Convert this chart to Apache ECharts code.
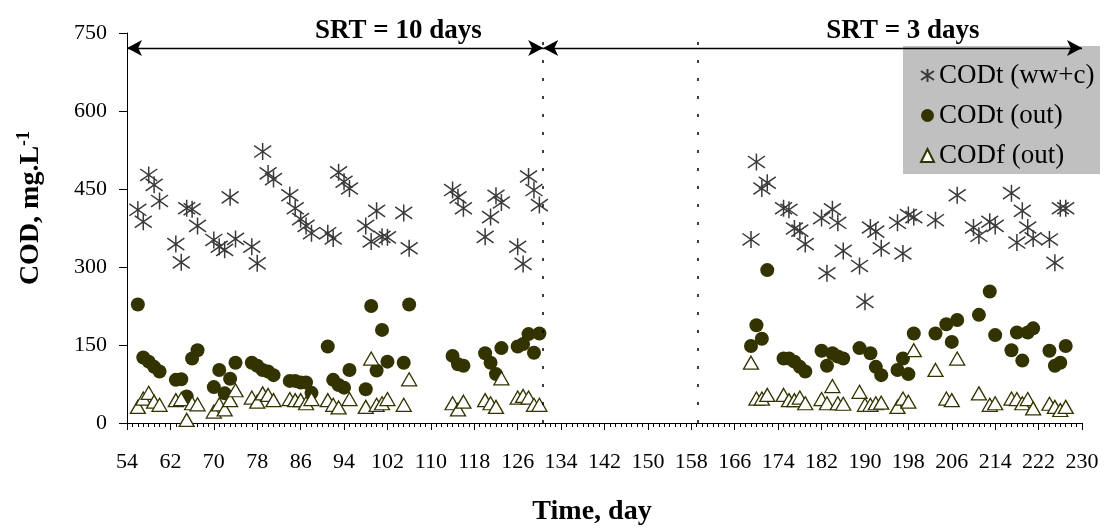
<!DOCTYPE html>
<html><head><meta charset="utf-8">
<script src="https://cdn.jsdelivr.net/npm/echarts@6/dist/echarts.min.js"></script>
<style>html,body{margin:0;padding:0;background:#fff}#c{width:1106px;height:528px}</style>
</head><body><div id="c"></div>
<script>
// ---- axis settings ----
const dayStart = 54;
const dayEnd = 230;
const xTickStep = 8;
const yMin = 0, yMax = 750, yStep = 150;

// ---- titles / series names ----
const xTitle = 'Time, day';
const yTitleMain = 'COD, mg.L';
const yTitleSup = '-1';
const seriesNames = ['CODt (ww+c)', 'CODt (out)', 'CODf (out)'];

// ---- CODt (ww+c) ----
const codtInDays = [56,57,58,59,60,63,64,65,66,67,70,71,72,73,74,77,78,79,80,81,84,85,86,87,88,91,92,93,94,95,98,99,100,101,102,105,106,114,115,116,120,121,122,123,126,127,128,129,130,
  169,170,171,172,175,176,177,178,179,182,183,184,185,186,189,190,191,192,193,196,197,198,199,203,207,210,211,213,214,217,218,219,220,221,224,225,226,227];
const codtInVals = [410,387,477,458,427,344,309,413,411,379,352,339,333,434,354,339,307,522,480,469,438,413,392,379,365,365,355,482,464,451,379,349,408,358,357,404,336,448,434,413,358,396,437,424,339,306,474,448,419,
  353,502,451,462,413,410,374,370,344,394,288,411,385,331,302,233,376,368,336,385,326,400,396,390,438,376,360,387,379,442,347,408,376,355,353,308,413,413];

// ---- CODt (out) ----
const codtOutDays = [56,57,58,59,60,63,64,65,66,67,70,71,72,73,74,77,78,79,80,81,84,85,86,87,88,91,92,93,94,95,98,99,100,101,102,105,106,114,115,116,120,121,122,123,126,127,128,129,130,
  169,170,171,172,175,176,177,178,179,182,183,184,185,186,189,191,192,193,196,197,198,199,203,205,206,207,211,213,214,217,218,219,220,221,224,225,226,227];
const codtOutVals = [228,126,118,108,99,83,84,51,124,140,69,102,57,85,116,116,110,102,99,92,81,81,78,78,58,147,83,73,68,102,65,225,101,179,118,116,228,129,113,110,134,116,94,144,147,152,171,135,172,
  148,188,162,294,124,124,118,108,99,139,110,134,128,124,144,134,108,92,102,124,94,172,172,190,156,198,208,253,169,140,174,120,174,182,139,110,116,148];

// ---- CODf (out) ----
const codfOutDays = [56,57,58,59,60,63,64,65,66,67,70,71,72,73,74,77,78,79,80,81,84,85,86,87,88,91,92,93,95,98,99,100,101,102,105,106,114,115,116,120,121,122,123,126,127,128,129,130,
  169,170,171,172,175,176,177,178,179,182,183,184,185,186,189,190,191,192,193,196,197,198,199,203,205,206,207,211,213,214,217,218,219,220,221,224,225,226,227];
const codfOutVals = [31,47,58,41,35,44,46,6,38,36,22,36,26,44,63,49,41,57,54,44,46,44,44,38,46,44,35,30,46,31,124,35,38,46,35,84,38,26,41,44,38,31,86,49,52,49,35,35,
  116,47,47,54,54,44,44,49,38,46,38,71,38,37,60,35,35,38,39,31,47,41,140,102,47,44,124,57,35,38,47,46,38,46,28,37,31,25,31];

// ---- annotations ----
const srtLabels = ['SRT = 10 days', 'SRT = 3 days'];
const srtArrowDays = [[54, 130.7], [130.7, 230]];
const srtArrowLevel = 721;
const srtLabelDays = [104, 197];
const srtLabelLevel = 754;
const dividerDays = [130.7, 159.2];

const FONT = '"Liberation Serif","Times New Roman",serif';
const pair = (days, vals) => days.map((d, i) => [d - dayStart, vals[i]]);
const starPath = 'path://M10,0L10,20M0,3L20,17M0,17L20,3';

const chart = echarts.init(document.getElementById('c'), null, {renderer: 'canvas'});
chart.setOption({
  animation: false,
  backgroundColor: '#fff',
  textStyle: {fontFamily: FONT, color: '#000'},
  grid: {left: 127, right: 24, top: 33, bottom: 105, containLabel: false},
  legend: {
    data: seriesNames,
    orient: 'vertical',
    left: 915, top: 56,
    itemWidth: 13, itemHeight: 13,
    itemGap: 11,
    z: 10,
    textStyle: {fontFamily: FONT, fontSize: 27, color: '#000', lineHeight: 29}
  },
  xAxis: {
    type: 'value', min: 0, max: dayEnd - dayStart, interval: xTickStep,
    axisLine: {show: true, onZero: false, lineStyle: {color: '#000', width: 1}},
    axisTick: {show: true, length: 7, lineStyle: {color: '#000'}},
    minorTick: {show: true, splitNumber: 8, length: 4, lineStyle: {color: '#000'}},
    axisLabel: {fontFamily: FONT, fontSize: 22, color: '#000', margin: 28,
      formatter: v => String(v + dayStart)},
    splitLine: {show: false}
  },
  yAxis: {
    type: 'value', min: yMin, max: yMax, interval: yStep,
    axisLine: {show: true, lineStyle: {color: '#000', width: 1}},
    axisTick: {show: true, length: 8, lineStyle: {color: '#000'}},
    axisLabel: {fontFamily: FONT, fontSize: 22, color: '#000', margin: 20},
    splitLine: {show: false}
  },
  series: [
    {
      name: seriesNames[0], type: 'scatter', symbol: starPath, symbolSize: 17,
      itemStyle: {color: 'rgba(0,0,0,0)', borderColor: '#3a3a3a', borderWidth: 1.5, opacity: 1},
      data: pair(codtInDays, codtInVals),
      markLine: {
        silent: true, animation: false,
        symbol: ['arrow', 'arrow'], symbolSize: [12, 15],
        label: {show: false},
        lineStyle: {color: '#000', width: 1.3, type: 'solid'},
        data: srtArrowDays.map(([a, b]) => [{coord: [a - dayStart, srtArrowLevel]}, {coord: [b - dayStart, srtArrowLevel]}])
      }
    },
    {
      name: seriesNames[1], type: 'scatter', symbol: 'circle', symbolSize: 14,
      itemStyle: {color: '#333300', opacity: 1},
      data: pair(codtOutDays, codtOutVals),
      markLine: {
        silent: true, animation: false, symbol: ['none', 'none'],
        label: {show: false},
        lineStyle: {color: '#000', width: 1.5, type: [3, 15]},
        data: dividerDays.map(d => ({xAxis: d - dayStart}))
      }
    },
    {
      name: seriesNames[2], type: 'scatter', symbol: 'triangle', symbolSize: [15, 13],
      itemStyle: {color: '#ffffff', borderColor: '#333300', borderWidth: 1.3, opacity: 1},
      data: pair(codfOutDays, codfOutVals)
    }
  ]
});

// annotation texts placed through the chart's own scales
const srtGraphics = srtLabels.map((t, i) => {
  const p = chart.convertToPixel({gridIndex: 0}, [srtLabelDays[i] - dayStart, srtLabelLevel]);
  return {
    type: 'text', id: 'srt' + i, x: p[0], y: p[1], z: 20,
    style: {text: t, fill: '#000', font: 'bold 27px ' + FONT, align: 'center', verticalAlign: 'middle',
      textAlign: 'center', textVerticalAlign: 'middle'}
  };
});
chart.setOption({
  graphic: [
    {type: 'rect', id: 'legendBox', left: 903, top: 46, z: 3,
      shape: {width: 197, height: 128}, style: {fill: '#c0c0c0'}},
    ...srtGraphics,
    {type: 'text', id: 'xTitle', x: 592, y: 512, z: 20,
      style: {text: xTitle, fill: '#000', font: 'bold 28px ' + FONT, align: 'center', verticalAlign: 'middle',
        textAlign: 'center', textVerticalAlign: 'middle'}},
    {type: 'text', id: 'yTitle', x: 31, y: 208, rotation: Math.PI / 2, z: 20,
      style: {text: '{a|' + yTitleMain + '}{b|' + yTitleSup + '}', align: 'center', verticalAlign: 'middle',
        textAlign: 'center', textVerticalAlign: 'middle',
        rich: {
          a: {fontFamily: FONT, fontSize: 28, fontWeight: 'bold', fill: '#000', lineHeight: 32},
          b: {fontFamily: FONT, fontSize: 18, fontWeight: 'bold', fill: '#000', lineHeight: 18, verticalAlign: 'top'}
        }}}
  ]
});
</script></body></html>
